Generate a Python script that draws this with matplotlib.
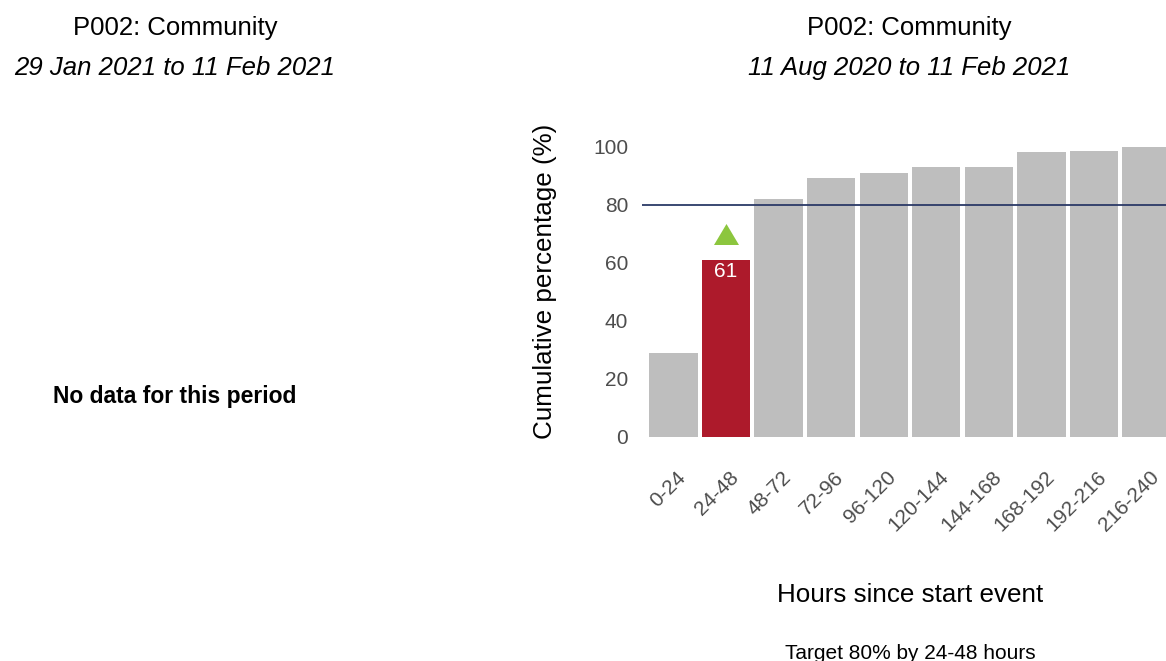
import matplotlib
matplotlib.use("Agg")
import matplotlib.pyplot as plt
import matplotlib.transforms as mtransforms

plt.rcParams['font.family'] = ['Liberation Sans', 'DejaVu Sans']

# data
hour_bands = ["0-24", "24-48", "48-72", "72-96", "96-120", "120-144",
              "144-168", "168-192", "192-216", "216-240"]
cum_pct = [29, 61, 82, 89, 91, 93, 93, 98, 98.5, 100]
target_band = "24-48"
target_pct = 80

left_title = "P002: Community"
left_period = "29 Jan 2021 to 11 Feb 2021"
right_title = "P002: Community"
right_period = "11 Aug 2020 to 11 Feb 2021"

grey_bar = "#BEBEBE"
red_bar = "#AD1A2B"
green_up = "#8CC63E"
navy = "#2B3A67"
tick_grey = "#4D4D4D"

W, H = 1166, 661
fig = plt.figure(figsize=(W / 100, H / 100), dpi=100)


def fx(px):
    return px / W


def fy(py):
    return 1 - py / H


# left panel: no data
fig.text(fx(175), fy(35), left_title, ha='center', va='baseline', fontsize=18.5)
fig.text(fx(175), fy(75), left_period, ha='center', va='baseline', fontsize=18.5, style='italic')
fig.text(fx(175), fy(403), "No data for this period", ha='center', va='baseline',
         fontsize=16.5, fontweight='bold')

# right panel
fig.text(fx(909), fy(35), right_title, ha='center', va='baseline', fontsize=18.5)
fig.text(fx(909), fy(75), right_period, ha='center', va='baseline', fontsize=18.5, style='italic')

ax_left, ax_right, ax_bottom, ax_top = 642, 1178, 437, 132
ax = fig.add_axes([fx(ax_left), fy(ax_bottom), (ax_right - ax_left) / W, (ax_bottom - ax_top) / H])

colors = [red_bar if b == target_band else grey_bar for b in hour_bands]
ax.bar(range(len(hour_bands)), cum_pct, width=0.92, color=colors, zorder=2)
ax.axhline(target_pct, color=navy, linewidth=1.3, zorder=3)

ti = hour_bands.index(target_band)
tv = cum_pct[ti]
ax.text(ti, tv - 4, f"{tv:.0f}", ha='center', va='center', color='white', fontsize=15, zorder=4)
tri = [(-1, -0.84), (1, -0.84), (0, 0.84)]
ax.plot([ti], [tv + 9], marker=tri, markersize=18, color=green_up, markeredgewidth=0,
        linestyle='none', zorder=4)

ax.set_xlim(-0.6, len(hour_bands) - 0.4)
ax.set_ylim(0, 105)
ax.set_yticks([0, 20, 40, 60, 80, 100])
ax.set_xticks(range(len(hour_bands)), hour_bands, rotation=45, ha='right', rotation_mode='anchor')
ax.tick_params(axis='y', length=0, pad=10, labelsize=15, labelcolor=tick_grey)
ax.tick_params(axis='x', length=0, pad=22, labelsize=15, labelcolor=tick_grey)
shift = mtransforms.ScaledTranslation(3 / 100, 0, fig.dpi_scale_trans)
for lab in ax.get_xticklabels():
    lab.set_transform(lab.get_transform() + shift)

for s in ax.spines.values():
    s.set_visible(False)

ax.set_ylabel("Cumulative percentage (%)", fontsize=18.7, va='center', ha='center')
ax.yaxis.set_label_coords((545 - ax_left) / (ax_right - ax_left), (ax_bottom - 281) / (ax_bottom - ax_top))
ax.set_xlabel("Hours since start event", fontsize=18.7, va='baseline')
ax.xaxis.set_label_coords(0.5, (ax_bottom - 602) / (ax_bottom - ax_top))

fig.text(fx(910), fy(659), "Target 80% by 24-48 hours", ha='center', va='baseline', fontsize=15)

fig.savefig("out.png", dpi=100)
